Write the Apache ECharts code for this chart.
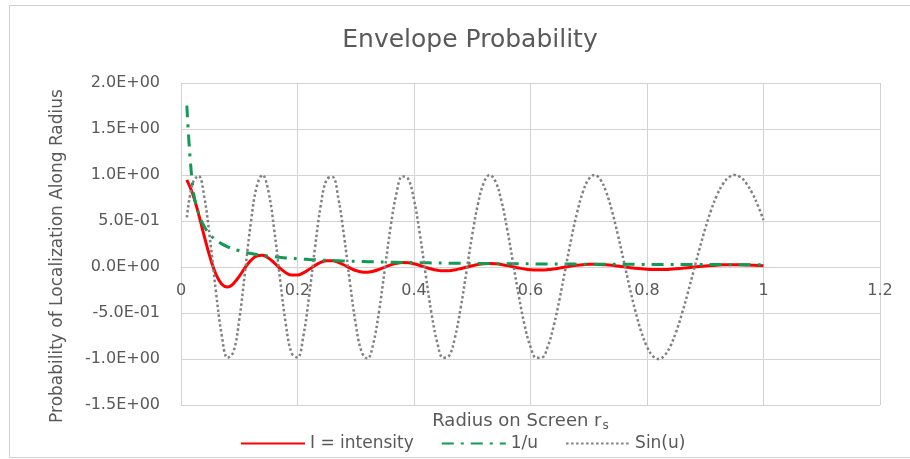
<!DOCTYPE html>
<html>
<head>
<meta charset="utf-8">
<script src="https://cdn.jsdelivr.net/npm/echarts@6/dist/echarts.min.js"></script>
<style>
  html, body { margin: 0; padding: 0; background: #ffffff; }
  #chart { width: 910px; height: 459px; }
</style>
</head>
<body>
<div id="chart"></div>
<script>
// Radius on screen r_s
const radius = [
  0.01, 0.02, 0.03, 0.04, 0.05, 0.06, 0.07, 0.08, 0.09, 0.10,
  0.11, 0.12, 0.13, 0.14, 0.15, 0.16, 0.17, 0.18, 0.19, 0.20,
  0.21, 0.22, 0.23, 0.24, 0.25, 0.26, 0.27, 0.28, 0.29, 0.30,
  0.31, 0.32, 0.33, 0.34, 0.35, 0.36, 0.37, 0.38, 0.39, 0.40,
  0.41, 0.42, 0.43, 0.44, 0.45, 0.46, 0.47, 0.48, 0.49, 0.50,
  0.51, 0.52, 0.53, 0.54, 0.55, 0.56, 0.57, 0.58, 0.59, 0.60,
  0.61, 0.62, 0.63, 0.64, 0.65, 0.66, 0.67, 0.68, 0.69, 0.70,
  0.71, 0.72, 0.73, 0.74, 0.75, 0.76, 0.77, 0.78, 0.79, 0.80,
  0.81, 0.82, 0.83, 0.84, 0.85, 0.86, 0.87, 0.88, 0.89, 0.90,
  0.91, 0.92, 0.93, 0.94, 0.95, 0.96, 0.97, 0.98, 0.99, 1.00
];

// I = intensity
const intensity = [
  0.9467, 0.7972, 0.5795, 0.3337, 0.1022, -0.0788, -0.1869, -0.2169, -0.1805, -0.1012,
  -0.0082, 0.0716, 0.1191, 0.1264, 0.0975, 0.0452, -0.0134, -0.0617, -0.0881, -0.0880,
  -0.0642, -0.0256, 0.0163, 0.0505, 0.0688, 0.0683, 0.0506, 0.0216, -0.0105, -0.0380,
  -0.0545, -0.0573, -0.0467, -0.0262, -0.0010, 0.0229, 0.0405, 0.0487, 0.0463, 0.0346,
  0.0166, -0.0037, -0.0223, -0.0358, -0.0421, -0.0406, -0.0320, -0.0183, -0.0021, 0.0138,
  0.0267, 0.0349, 0.0375, 0.0343, 0.0262, 0.0148, 0.0017, -0.0111, -0.0220, -0.0296,
  -0.0332, -0.0327, -0.0283, -0.0207, -0.0111, -0.0006, 0.0097, 0.0185, 0.0252, 0.0292,
  0.0303, 0.0285, 0.0242, 0.0179, 0.0102, 0.0020, -0.0062, -0.0137, -0.0198, -0.0244,
  -0.0270, -0.0277, -0.0264, -0.0235, -0.0191, -0.0137, -0.0075, -0.0012, 0.0051, 0.0110,
  0.0161, 0.0202, 0.0232, 0.0249, 0.0255, 0.0248, 0.0230, 0.0203, 0.0168, 0.0127
];

// 1/u
const invU = [
  1.7544, 0.8774, 0.5851, 0.4389, 0.3513, 0.2929, 0.2512, 0.2200, 0.1957, 0.1763,
  0.1605, 0.1472, 0.1361, 0.1265, 0.1183, 0.1110, 0.1047, 0.0990, 0.0940, 0.0895,
  0.0854, 0.0817, 0.0783, 0.0752, 0.0723, 0.0697, 0.0673, 0.0651, 0.0630, 0.0611,
  0.0593, 0.0576, 0.0560, 0.0545, 0.0531, 0.0518, 0.0506, 0.0494, 0.0483, 0.0472,
  0.0462, 0.0453, 0.0444, 0.0436, 0.0428, 0.0420, 0.0412, 0.0405, 0.0399, 0.0392,
  0.0386, 0.0380, 0.0375, 0.0369, 0.0364, 0.0359, 0.0354, 0.0350, 0.0345, 0.0341,
  0.0337, 0.0333, 0.0329, 0.0325, 0.0322, 0.0318, 0.0315, 0.0312, 0.0309, 0.0306,
  0.0303, 0.0300, 0.0298, 0.0295, 0.0292, 0.0290, 0.0288, 0.0285, 0.0283, 0.0281,
  0.0279, 0.0277, 0.0275, 0.0273, 0.0271, 0.0269, 0.0267, 0.0266, 0.0264, 0.0262,
  0.0261, 0.0259, 0.0258, 0.0256, 0.0255, 0.0253, 0.0252, 0.0251, 0.0249, 0.0248
];

// Sin(u)
const sinU = [
  0.5396, 0.9086, 0.9904, 0.7602, 0.2909, -0.2689, -0.7438, -0.9861, -0.9222, -0.5741,
  -0.0508, 0.4865, 0.8751, 0.9988, 0.8245, 0.4071, -0.1278, -0.6233, -0.9373, -0.9833,
  -0.7525, -0.3139, 0.2085, 0.6714, 0.9512, 0.9789, 0.7513, 0.3326, -0.1671, -0.6216,
  -0.9205, -0.9956, -0.8345, -0.4804, -0.0196, 0.4416, 0.8017, 0.9852, 0.9582, 0.7325,
  0.3598, -0.0809, -0.5016, -0.8219, -0.9855, -0.9667, -0.7752, -0.4503, -0.0518, 0.3509,
  0.6918, 0.9183, 0.9999, 0.9287, 0.7207, 0.4113, 0.0477, -0.3181, -0.6366, -0.8686,
  -0.9868, -0.9819, -0.8584, -0.6364, -0.3445, -0.0179, 0.3062, 0.5937, 0.8168, 0.9555,
  0.9999, 0.9496, 0.8132, 0.6063, 0.3499, 0.0676, -0.2161, -0.4788, -0.7010, -0.8676,
  -0.9685, -0.9999, -0.9623, -0.8607, -0.7055, -0.5080, -0.2824, -0.0434, 0.1947, 0.4184,
  0.6165, 0.7791, 0.8991, 0.9736, 0.9999, 0.9792, 0.9144, 0.8104, 0.6733, 0.5104
];

const seriesNames = ['I = intensity', '1/u', 'Sin(u)'];
const chartTitle = 'Envelope Probability';
const xAxisTitle = 'Radius on Screen r{sub|s}';
const yAxisTitle = 'Probability of Localization Along Radius';

const FONT = 'DejaVu Sans';
const TXT = '#595959';
const GRID = '#d3d3d3';
const Y_MIN = -1.5, Y_MAX = 2, Y_STEP = 0.5;
const X_MIN = 0, X_MAX = 1.2, X_STEP = 0.2;

function sci(v) {
  const s = Number(v).toExponential(1);
  const parts = s.split('e');
  const n = parseInt(parts[1], 10);
  return parts[0] + 'E' + (n < 0 ? '-' : '+') + String(Math.abs(n)).padStart(2, '0');
}

function pairs(ys) { return radius.map((r, i) => [r, ys[i]]); }

const chart = echarts.init(document.getElementById('chart'), null, { renderer: 'canvas' });
chart.setOption({
  animation: false,
  backgroundColor: '#ffffff',
  title: {
    text: chartTitle,
    left: 465,
    top: 23,
    textAlign: 'center',
    textStyle: { fontFamily: FONT, fontSize: 25, fontWeight: 'normal', color: TXT }
  },
  graphic: [{
    type: 'rect',
    silent: true,
    shape: { x: 9.5, y: 5.5, width: 920, height: 452 },
    style: { fill: 'none', stroke: '#d0d0d0', lineWidth: 1 }
  }],
  legend: {
    data: seriesNames,
    left: 235,
    top: 430,
    itemWidth: 64,
    itemHeight: 14,
    itemGap: 27,
    itemStyle: { opacity: 0 },
    textStyle: { fontFamily: FONT, fontSize: 17, color: TXT }
  },
  grid: { left: 181, right: 30, top: 83, bottom: 54, containLabel: false, outerBoundsMode: 'none' },
  xAxis: {
    type: 'value',
    min: X_MIN,
    max: X_MAX,
    interval: X_STEP,
    name: xAxisTitle,
    nameLocation: 'middle',
    nameGap: 144,
    nameTextStyle: {
      fontFamily: FONT, fontSize: 18, color: TXT, padding: [0, 20, 0, 0],
      rich: { sub: { fontFamily: FONT, fontSize: 12, color: TXT, padding: [9, 0, 0, 1] } }
    },
    axisLine: { show: true, onZero: false, lineStyle: { color: GRID, width: 1 } },
    axisTick: { show: false },
    axisLabel: { fontFamily: FONT, fontSize: 16, color: TXT, margin: 16 },
    splitLine: { show: true, lineStyle: { color: GRID, width: 1 } }
  },
  yAxis: {
    type: 'value',
    min: Y_MIN,
    max: Y_MAX,
    interval: Y_STEP,
    name: yAxisTitle,
    nameLocation: 'middle',
    nameGap: 115,
    nameTextStyle: { fontFamily: FONT, fontSize: 17, color: TXT, padding: [0, 24, 0, 0] },
    axisLine: { show: true, onZero: false, lineStyle: { color: GRID, width: 1 } },
    axisTick: { show: false },
    axisLabel: { fontFamily: FONT, fontSize: 16, color: TXT, margin: 21, formatter: sci },
    splitLine: { show: true, lineStyle: { color: GRID, width: 1 } }
  },
  series: [
    {
      name: seriesNames[0],
      type: 'line',
      data: pairs(intensity),
      smooth: 0.4,
      showSymbol: false,
      symbol: 'none',
      color: '#ff0000',
      lineStyle: { color: '#ff0000', width: 3 }
    },
    {
      name: seriesNames[1],
      type: 'line',
      data: pairs(invU),
      smooth: 0.4,
      showSymbol: false,
      symbol: 'none',
      color: '#109a55',
      lineStyle: { color: '#109a55', width: 3, type: [12, 7, 3, 7], cap: 'butt' }
    },
    {
      name: seriesNames[2],
      type: 'line',
      data: pairs(sinU),
      smooth: 0.4,
      showSymbol: false,
      symbol: 'none',
      color: '#808080',
      lineStyle: { color: '#808080', width: 2.5, type: [2.5, 2.5], cap: 'butt' }
    }
  ]
});

// Put the horizontal axis (line + labels + title) on the y = 0 crossing, as in the reference.
const zeroPx = chart.convertToPixel({ yAxisIndex: 0 }, 0);
const minPx = chart.convertToPixel({ yAxisIndex: 0 }, Y_MIN);
chart.setOption({ xAxis: { offset: zeroPx - minPx } });
</script>
</body>
</html>
